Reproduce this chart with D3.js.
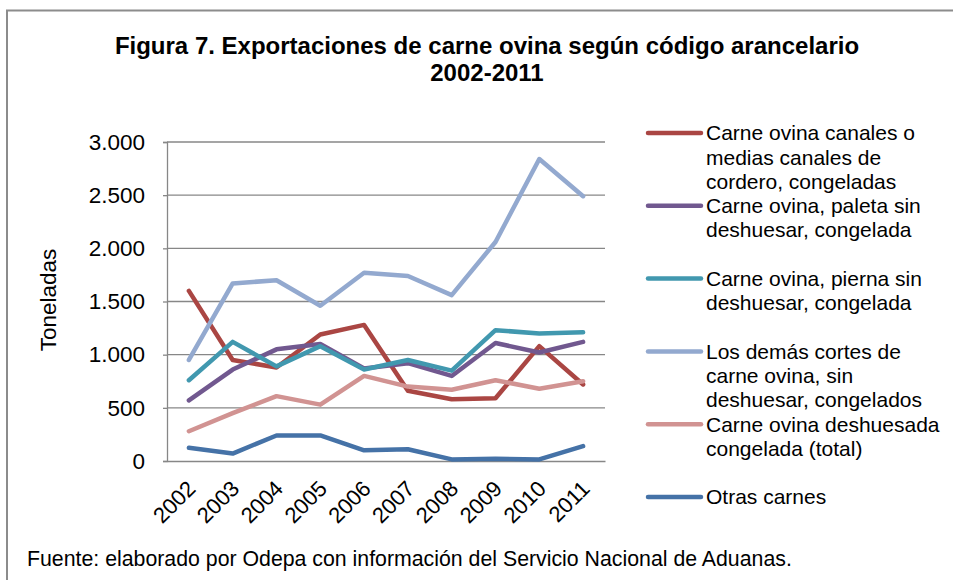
<!DOCTYPE html>
<html>
<head>
<meta charset="utf-8">
<script src="https://cdn.jsdelivr.net/npm/d3@7"></script>
<style>
  html, body { margin: 0; padding: 0; background: #fff; }
  svg { display: block; font-family: "Liberation Sans", Arial, sans-serif; }
</style>
</head>
<body>
<svg id="chart" width="953" height="580"></svg>
<script>
const years = ["2002","2003","2004","2005","2006","2007","2008","2009","2010","2011"];
const seriesNames = [
  ["Carne ovina canales o", "medias canales de", "cordero, congeladas"],
  ["Carne ovina, paleta sin", "deshuesar, congelada"],
  ["Carne ovina, pierna sin", "deshuesar, congelada"],
  ["Los demás cortes de", "carne ovina, sin", "deshuesar, congelados"],
  ["Carne ovina deshuesada", "congelada (total)"],
  ["Otras carnes"]
];
const canales    = [1600, 950, 880, 1190, 1280, 660, 580, 590, 1080, 720];
const paleta     = [570, 860, 1050, 1100, 870, 920, 800, 1110, 1020, 1120];
const pierna     = [760, 1120, 890, 1080, 860, 950, 850, 1230, 1200, 1210];
const demas      = [950, 1670, 1700, 1460, 1770, 1740, 1560, 2060, 2840, 2490];
const deshuesada = [280, 450, 610, 530, 800, 700, 670, 760, 680, 750];
const otras      = [125, 70, 240, 240, 100, 110, 15, 20, 15, 140];
const yTicks = [0, 500, 1000, 1500, 2000, 2500, 3000];
const yTickLabels = ["0", "500", "1.000", "1.500", "2.000", "2.500", "3.000"];

const seriesValues = [canales, paleta, pierna, demas, deshuesada, otras];
const colors = ["#AA4643", "#71588F", "#4198AF", "#93A9CF", "#D19392", "#4572A7"];

const svg = d3.select("#chart");

// outer frame
svg.append("path")
  .attr("d", "M7,590 L7,10.5 L960,10.5")
  .attr("fill", "none").attr("stroke", "#8c8c8c").attr("stroke-width", 2);

// title
svg.append("text").attr("x", 487).attr("y", 53.5).attr("text-anchor", "middle")
  .attr("font-size", 24).attr("font-weight", "bold").attr("fill", "#000")
  .text("Figura 7. Exportaciones de carne ovina según código arancelario");
svg.append("text").attr("x", 487).attr("y", 80.5).attr("text-anchor", "middle")
  .attr("font-size", 24).attr("font-weight", "bold").attr("fill", "#000")
  .text("2002-2011");

const plotL = 167, plotR = 605, plotT = 142, plotB = 461;
const x = d3.scaleBand().domain(years).range([plotL, plotR]);
const y = d3.scaleLinear().domain([0, 3000]).range([plotB, plotT]);

// gridlines
svg.append("g").selectAll("line").data(yTicks.filter(d => d > 0)).join("line")
  .attr("x1", plotL).attr("x2", plotR)
  .attr("y1", d => y(d)).attr("y2", d => y(d))
  .attr("stroke", "#878787").attr("stroke-width", 1.3);

// y axis
const yAxis = d3.axisLeft(y).tickValues(yTicks)
  .tickFormat((d, i) => yTickLabels[i]).tickSize(4).tickPadding(18);
const gy = svg.append("g").attr("transform", `translate(${plotL},0)`).call(yAxis);
gy.select(".domain").attr("stroke", "#878787").attr("stroke-width", 1.3);
gy.selectAll(".tick line").attr("stroke", "#878787").attr("stroke-width", 1.3);
gy.selectAll(".tick text").attr("font-size", 22.5).attr("fill", "#000")
  .attr("font-family", "Liberation Sans, Arial, sans-serif");

// x axis
const xAxis = d3.axisBottom(x).tickSize(0).tickPadding(0);
const gx = svg.append("g").attr("transform", `translate(0,${plotB})`).call(xAxis);
gx.select(".domain").attr("stroke", "#878787").attr("stroke-width", 1.3);
gx.selectAll(".tick text")
  .attr("font-size", 22).attr("fill", "#000")
  .attr("font-family", "Liberation Sans, Arial, sans-serif")
  .attr("text-anchor", "end")
  .attr("y", 0)
  .attr("dy", 0)
  .attr("transform", "translate(8,29) rotate(-45)");

// y label
svg.append("text")
  .attr("transform", "translate(48,300) rotate(-90)")
  .attr("text-anchor", "middle").attr("dy", "0.35em")
  .attr("font-size", 22.5).attr("fill", "#000")
  .text("Toneladas");

// lines
const line = d3.line().x((d, i) => x(years[i]) + x.bandwidth() / 2).y(d => y(d));
svg.append("g").selectAll("path").data(seriesValues).join("path")
  .attr("d", d => line(d))
  .attr("fill", "none")
  .attr("stroke", (d, i) => colors[i])
  .attr("stroke-width", 4.5)
  .attr("stroke-linejoin", "round")
  .attr("stroke-linecap", "round");

// legend
const legStart = 133, legStep = 72.8, lineH = 24.3;
const leg = svg.append("g");
seriesNames.forEach((lines, i) => {
  const ly = legStart + i * legStep;
  leg.append("line").attr("x1", 648).attr("x2", 701).attr("y1", ly).attr("y2", ly)
    .attr("stroke", colors[i]).attr("stroke-width", 4.5).attr("stroke-linecap", "round");
  const t = leg.append("text").attr("x", 706).attr("y", ly).attr("font-size", 21).attr("fill", "#000");
  lines.forEach((s, j) => {
    t.append("tspan").attr("x", 706).attr("y", ly + j * lineH).attr("dy", "0.35em").text(s);
  });
});

// footer
svg.append("text").attr("x", 27).attr("y", 566).attr("font-size", 21.3).attr("fill", "#000")
  .text("Fuente: elaborado por Odepa con información del Servicio Nacional de Aduanas.");
</script>
</body>
</html>
